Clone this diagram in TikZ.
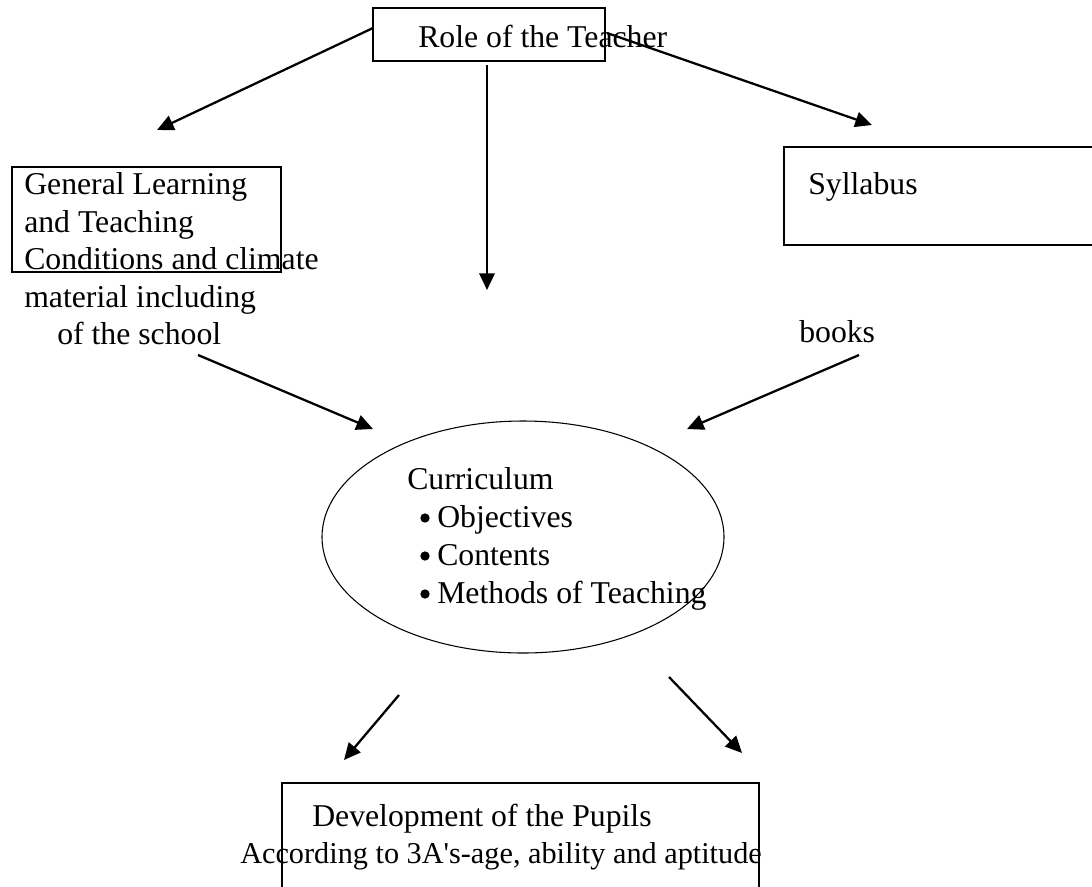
\documentclass[tikz,border=0pt]{standalone}
\usepackage{fontspec}
\setmainfont{Liberation Serif}
\usetikzlibrary{arrows.meta,shapes.geometric}
\tikzset{
  boxnode/.style={draw,line width=1.1pt,inner sep=0pt,rectangle},
  ovalnode/.style={draw,line width=0.8pt,inner sep=0pt,ellipse},
  txt/.style={anchor=base west,inner sep=0pt,font=\fontsize{23.8}{28}\selectfont},
  dot/.style={circle,fill,inner sep=0pt,minimum size=7pt},
  arr/.style={line width=1.7pt,-{Triangle[length=12.5pt,width=11.5pt]}}
}
\begin{document}
\begin{tikzpicture}[x=0.75pt,y=-0.75pt]
\useasboundingbox (0,0) rectangle (1092,886);
% boxes
\node[boxnode,minimum width=174pt,minimum height=39.75pt] (role) at (489,34.5) {};
\node[boxnode,minimum width=201.75pt,minimum height=78.75pt] (gen) at (146.5,219.5) {};
\node[boxnode,minimum width=231.75pt,minimum height=73.5pt] (syl) at (938.5,196) {};
\node[boxnode,minimum width=357.75pt,minimum height=80.25pt] (dev) at (520.5,836.5) {};
\node[ovalnode,minimum width=301.5pt,minimum height=174pt] (cur) at (523,537) {};
% texts
\node[txt] (troles) at (418,47) {Role of the Teacher};
\node[txt] (g1) at (24,194) {General Learning};
\node[txt] (g2) at (24,232) {and Teaching};
\node[txt] (g3) at (24,269) {Conditions and climate};
\node[txt] (g4) at (24,307) {material including};
\node[txt] (g5) at (57,344) {of the school};
\node[txt] (tsyl) at (808,194) {Syllabus};
\node[txt] (tbooks) at (799,342) {books};
\node[txt] (c0) at (407,489) {Curriculum};
\node[dot] (b1) at (425,518) {};
\node[txt] (c1) at (437,527) {Objectives};
\node[dot] (b2) at (425,556) {};
\node[txt] (c2) at (437,565) {Contents};
\node[dot] (b3) at (425,594) {};
\node[txt] (c3) at (437,603) {Methods of Teaching};
\node[txt] (d1) at (312,826) {Development of the Pupils};
\node[txt,font=\fontsize{22.7}{28}\selectfont] (d2) at (240,863) {According to 3A\textquotesingle s-age, ability and aptitude};
% arrow ends
\coordinate (s1) at (373,28);  \coordinate (e1) at (157,130);
\coordinate (s2) at (487,65);  \coordinate (e2) at (487,290);
\coordinate (s3) at (607,33);  \coordinate (e3) at (872,125);
\coordinate (s4) at (198,355); \coordinate (e4) at (373,429);
\coordinate (s5) at (859,355); \coordinate (e5) at (687,429);
\coordinate (s6) at (399,695); \coordinate (e6) at (344,760);
\coordinate (s7) at (669,677); \coordinate (e7) at (742,753);
\draw[arr] (s1) -- (e1);
\draw[arr] (s2) -- (e2);
\draw[arr] (s3) -- (e3);
\draw[arr] (s4) -- (e4);
\draw[arr] (s5) -- (e5);
\draw[arr] (s6) -- (e6);
\draw[arr] (s7) -- (e7);
\end{tikzpicture}
\end{document}
